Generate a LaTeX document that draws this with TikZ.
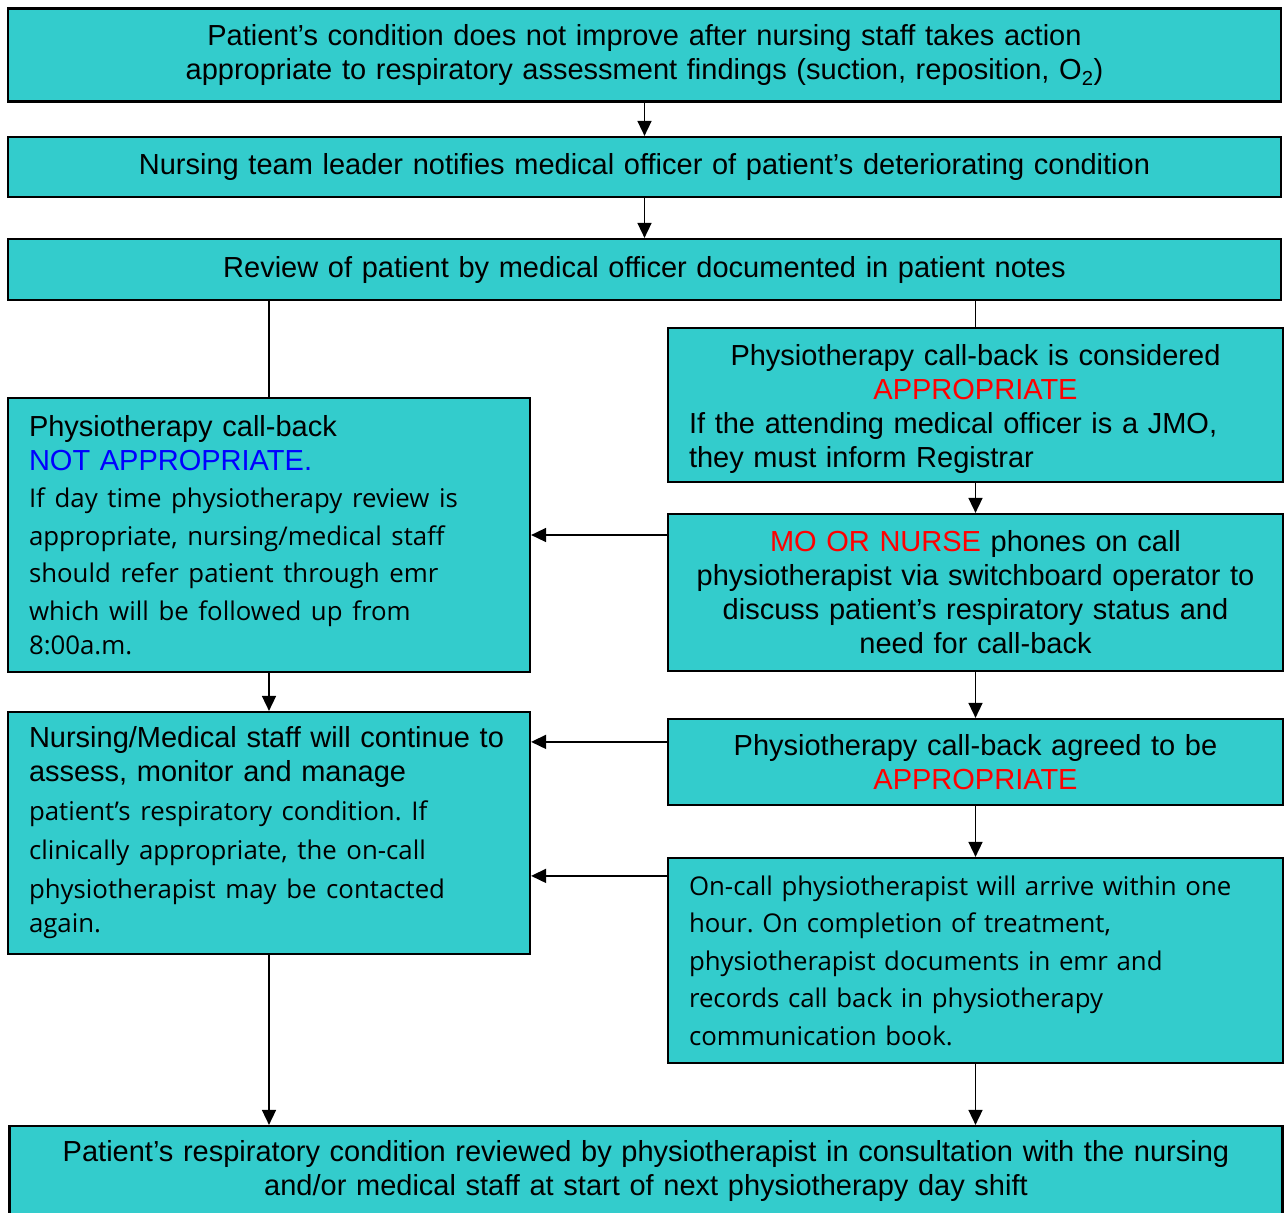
\documentclass[tikz,border=0pt]{standalone}
\usepackage{fontspec}
\setmainfont{Liberation Sans}
\newfontfamily\segoe{Open Sans}
\usetikzlibrary{arrows.meta}
\definecolor{boxteal}{RGB}{51,204,204}
\frenchspacing
\newcommand{\arialtxt}{\fontsize{29}{34}\selectfont}
\newcommand{\segoetxt}{\segoe\fontsize{25.8}{37.5}\selectfont}

\begin{document}
\begin{tikzpicture}[x=1pt,y=1pt,yscale=-1,
    flowbox/.style={draw=black, line width=2.2pt, fill=boxteal, inner xsep=21pt, inner ysep=0pt, font=\arialtxt},
    widebox/.style={flowbox, text width=1231pt, align=center},
    leftbox/.style={flowbox, text width=480pt, align=left},
    rightbox/.style={flowbox, text width=573pt, align=left},
    arr/.style={line width=1.6pt, -{Triangle[length=15pt,width=14pt]}},
    link/.style={line width=1.6pt}]
    	\useasboundingbox (0,0) rectangle (1286,1213);
    	
    	% boxes down the middle
    	\node [widebox, minimum height=93] (worsen) at (644.5,55) {Patient’s condition does not improve after nursing staff takes action\\ appropriate to respiratory assessment findings (suction, reposition, O\textsubscript{2})};
    	\node [widebox, minimum height=60] (notify) at (644.5,167) {Nursing team leader notifies medical officer of patient’s deteriorating condition};
    	\node [widebox, minimum height=61] (review) at (644.5,269.5) {Review of patient by medical officer documented in patient notes};
    	
    	% right branch
    	\node [rightbox, minimum height=154] (considered) at (975.5,405) {{\centering\rule{0pt}{29pt}Physiotherapy call-back is considered\\ \textcolor{red}{APPROPRIATE}\par}If the attending medical officer is a JMO,\\ they must inform Registrar};
    	\node [rightbox, align=center, minimum height=157] (phone) at (975.5,592.5) {\textcolor{red}{MO OR NURSE} phones on call\\ physiotherapist via switchboard operator to\\ discuss patient’s respiratory status and\\ need for call-back};
    	\node [rightbox, align=center, minimum height=86] (agreed) at (975.5,762) {Physiotherapy call-back agreed to be\\ \textcolor{red}{APPROPRIATE}};
    	\node [rightbox, minimum height=205, font=\segoetxt] (oncall) at (975.5,960.5) {On-call physiotherapist will arrive within one\\ hour. On completion of treatment,\\ physiotherapist documents in emr and\\ records call back in physiotherapy\\ communication book.};
    	
    	% left branch
    	\node [leftbox, minimum height=274] (notappr) at (269,535) {Physiotherapy call-back\\ \textcolor{blue}{NOT APPROPRIATE.}\par\segoetxt If day time physiotherapy review is\\ appropriate, nursing/medical staff\\ should refer patient through emr\\ which will be followed up from\\ 8:00a.m.};
    	\node [leftbox, minimum height=242] (monitor) at (269,833) {Nursing/Medical staff will continue to\\ assess, monitor and manage\par\segoetxt\fontsize{25.8}{39}\selectfont patient’s respiratory condition. If\\ clinically appropriate, the on-call\\ physiotherapist may be contacted\\ again.};
    	
    	\node [widebox, minimum height=90] (nextshift) at (646,1171) {Patient’s respiratory condition reviewed by physiotherapist in consultation with the nursing\\ and/or medical staff at start of next physiotherapy day shift};
    	
    	% connectors
    	\draw [arr] (worsen) -- (notify);
    	\draw [arr] (notify) -- (review);
    	\draw [link] (notappr.north |- review.south) -- (notappr.north);
    	\draw [link] (considered.north |- review.south) -- (considered.north);
    	\draw [arr] (considered) -- (phone);
    	\draw [arr] (phone.west |- notappr.east) -- (notappr.east);
    	\draw [arr] (phone) -- (agreed);
    	\draw [arr] (agreed) -- (oncall);
    	\draw [arr] (notappr) -- (monitor);
    	\draw [arr] ([yshift=24pt]agreed.north west) -- ([yshift=24pt]agreed.north west -| monitor.east);
    	\draw [arr] ([yshift=19pt]oncall.north west) -- ([yshift=19pt]oncall.north west -| monitor.east);
    	\draw [arr] (monitor.south) -- (monitor.south |- nextshift.north);
    	\draw [arr] (oncall.south) -- (oncall.south |- nextshift.north);
    	
\end{tikzpicture}
\end{document}
